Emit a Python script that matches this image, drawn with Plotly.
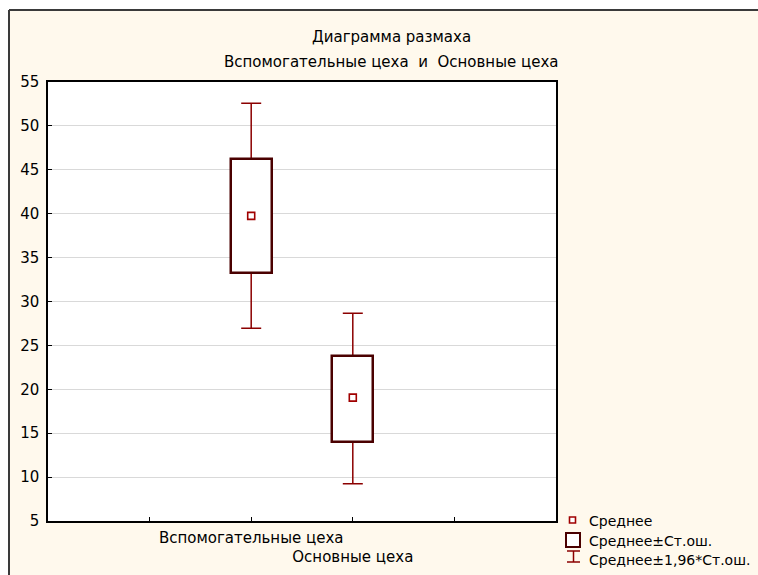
import plotly.graph_objects as go

# ---- data ----
categories = ["Вспомогательные цеха", "Основные цеха"]
means = [39.75, 19.05]
se_low = [33.28, 14.03]
se_high = [46.23, 23.83]
ci_low = [26.95, 9.25]
ci_high = [52.57, 28.65]
y_ticks = [5, 10, 15, 20, 25, 30, 35, 40, 45, 50, 55]
title_lines = ["Диаграмма размаха", "Вспомогательные цеха  и  Основные цеха"]
legend_labels = ["Среднее", "Среднее±Ст.ош.", "Среднее±1,96*Ст.ош."]

# ---- layout geometry (pixels) ----
W, H = 758, 575
L, R, T, B = 48, 556, 82, 521
FONT = "DejaVu Sans, Arial, sans-serif"
FS = 15
BOX_DARK = "#4a0000"
WHISK = "#8b0000"
MEAN_C = "#a00000"
CREAM = "#FFF9ED"


def px(x):
    return (x - L) / (R - L)


def py(y):
    return (B - y) / (B - T)


xpos = [i + 2 for i in range(len(categories))]

fig = go.Figure()

# whiskers (mean ± 1.96 SE) drawn on the lower subplot layer
fig.add_trace(go.Scatter(
    x=xpos, y=means, mode="markers",
    marker=dict(size=1, color="rgba(0,0,0,0)"),
    error_y=dict(type="data", symmetric=False,
                 array=[h - m for h, m in zip(ci_high, means)],
                 arrayminus=[m - l for m, l in zip(means, ci_low)],
                 color=WHISK, thickness=1.5, width=10),
    showlegend=False, hoverinfo="skip", xaxis="x", yaxis="y",
))

# boxes (mean ± SE) on overlay axis so they cover the whisker line
fig.add_trace(go.Bar(
    x=xpos, y=[h - l for h, l in zip(se_high, se_low)], base=se_low,
    width=0.4, marker=dict(color="white", line=dict(color=BOX_DARK, width=2.5)),
    showlegend=False, hoverinfo="skip", xaxis="x2", yaxis="y",
))

# mean markers
fig.add_trace(go.Scatter(
    x=xpos, y=means, mode="markers",
    marker=dict(symbol="square", size=7, color="white",
                line=dict(color=MEAN_C, width=1.6)),
    showlegend=False, hoverinfo="skip", xaxis="x2", yaxis="y",
))

tick_text = ["", categories[0], "<br>" + categories[1], ""]

fig.update_layout(
    width=W, height=H,
    margin=dict(l=L, r=W - R, t=T, b=H - B, pad=0, autoexpand=False),
    paper_bgcolor=CREAM, plot_bgcolor="white",
    font=dict(family=FONT, size=FS, color="black"),
    showlegend=False,
    bargap=0,
    xaxis=dict(range=[0, 5], tickvals=[1, 2, 3, 4], ticktext=tick_text,
               tickangle=0, automargin=False,
               ticks="inside", ticklen=4, tickcolor="black", tickwidth=1,
               showline=True, linecolor="black", linewidth=1.5, mirror=True,
               showgrid=False, zeroline=False, fixedrange=True,
               ticklabelstandoff=2,
               tickfont=dict(family=FONT, size=FS)),
    xaxis2=dict(range=[0, 5], overlaying="x", visible=False, fixedrange=True),
    yaxis=dict(range=[5, 55], tickvals=y_ticks, ticks="inside", ticklen=4,
               automargin=False,
               tickcolor="black", tickwidth=1,
               showline=True, linecolor="black", linewidth=1.5, mirror=True,
               showgrid=True, gridcolor="#d9d9d9", gridwidth=1,
               zeroline=False, fixedrange=True, ticklabelstandoff=4,
               tickfont=dict(family=FONT, size=FS)),
)

shapes = []
# white strips outside the outer frame
shapes.append(dict(type="rect", xref="paper", yref="paper", layer="below",
                   x0=px(-5), x1=px(9), y0=py(H + 5), y1=py(-5),
                   fillcolor="white", line=dict(width=0)))
shapes.append(dict(type="rect", xref="paper", yref="paper", layer="below",
                   x0=px(-5), x1=px(W + 5), y0=py(10), y1=py(-5),
                   fillcolor="white", line=dict(width=0)))
# outer frame lines (left and top)
shapes.append(dict(type="line", xref="paper", yref="paper",
                   x0=px(9), x1=px(9), y0=py(10), y1=py(H + 5),
                   line=dict(color="#3a3a3a", width=2)))
shapes.append(dict(type="line", xref="paper", yref="paper",
                   x0=px(9), x1=px(W + 5), y0=py(10), y1=py(10),
                   line=dict(color="#3a3a3a", width=2)))

# legend symbols
shapes.append(dict(type="rect", xref="paper", yref="paper",
                   x0=px(569.5), x1=px(575.5), y0=py(523), y1=py(517),
                   fillcolor="white", line=dict(color=MEAN_C, width=1.6)))
shapes.append(dict(type="rect", xref="paper", yref="paper",
                   x0=px(566), x1=px(580), y0=py(547), y1=py(533),
                   fillcolor="white", line=dict(color=BOX_DARK, width=2)))
shapes.append(dict(type="line", xref="paper", yref="paper",
                   x0=px(573.5), x1=px(573.5), y0=py(562), y1=py(551),
                   line=dict(color=WHISK, width=1.5)))
shapes.append(dict(type="line", xref="paper", yref="paper",
                   x0=px(567), x1=px(580), y0=py(551), y1=py(551),
                   line=dict(color=WHISK, width=1.5)))
shapes.append(dict(type="line", xref="paper", yref="paper",
                   x0=px(567), x1=px(580), y0=py(562), y1=py(562),
                   line=dict(color=WHISK, width=1.5)))
fig.update_layout(shapes=shapes)

annotations = []
for txt, yy in zip(title_lines, [37, 62]):
    annotations.append(dict(text=txt, xref="paper", yref="paper",
                            x=px(391), y=py(yy), xanchor="center", yanchor="middle",
                            showarrow=False, font=dict(family=FONT, size=FS)))
for txt, yy in zip(legend_labels, [521, 541, 560]):
    annotations.append(dict(text=txt, xref="paper", yref="paper",
                            x=px(587), y=py(yy), xanchor="left", yanchor="middle",
                            showarrow=False, font=dict(family=FONT, size=14)))
fig.update_layout(annotations=annotations)

fig.write_html(
    "out.html",
    config={"displayModeBar": False},
    post_script="document.body.style.margin='0';document.body.style.overflow='hidden';",
)
